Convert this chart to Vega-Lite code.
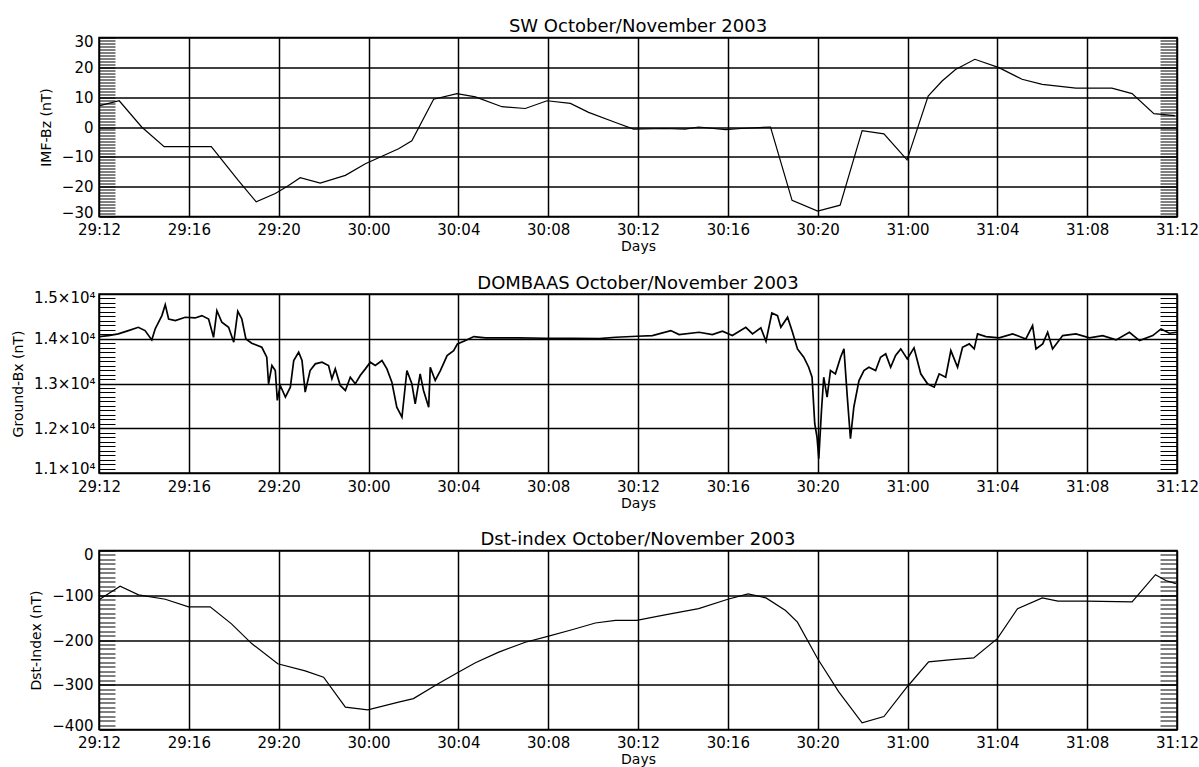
{
  "$schema": "https://vega.github.io/schema/vega-lite/v6.json",
  "padding": {"left": 10, "top": 16.5, "right": 5, "bottom": 0},
  "background": "white",
  "spacing": 18.5,
  "config": {
    "font": "DejaVu Sans",
    "view": {"stroke": "black", "strokeWidth": 1.5},
    "title": {"font": "DejaVu Sans", "fontSize": 18, "fontWeight": "normal", "color": "black", "baseline": "alphabetic", "offset": -2, "anchor": "middle", "frame": "group"},
    "axis": {
      "labelFont": "DejaVu Sans", "labelFontSize": 15, "labelColor": "black",
      "titleFont": "DejaVu Sans", "titleFontSize": 14, "titleFontWeight": "normal", "titleColor": "black",
      "gridColor": "black", "gridOpacity": 1, "gridWidth": 1.5,
      "domain": false, "ticks": false, "labelOverlap": false, "labelFlush": false
    }
  },
  "vconcat": [
    {
      "width": 1078, "height": 179,
      "title": "SW October/November 2003",
      "data": {"values": [
        {"hour": 0, "bz": 7.1}, {"hour": 0.9, "bz": 8.8}, {"hour": 1.9, "bz": 0}, {"hour": 2.9, "bz": -6.6},
        {"hour": 5.0, "bz": -6.6}, {"hour": 6.2, "bz": -17.9}, {"hour": 7.0, "bz": -25.1}, {"hour": 7.85, "bz": -22.3},
        {"hour": 8.44, "bz": -19.6}, {"hour": 8.96, "bz": -17}, {"hour": 9.85, "bz": -18.8}, {"hour": 10.97, "bz": -16.2},
        {"hour": 11.86, "bz": -12.3}, {"hour": 13.34, "bz": -7.3}, {"hour": 13.93, "bz": -4.6}, {"hour": 14.9, "bz": 9.3},
        {"hour": 15.94, "bz": 11.2}, {"hour": 16.76, "bz": 10.1}, {"hour": 17.94, "bz": 6.8}, {"hour": 18.98, "bz": 6.2},
        {"hour": 19.95, "bz": 8.8}, {"hour": 20.99, "bz": 7.9}, {"hour": 21.8, "bz": 4.9}, {"hour": 23.0, "bz": 1.5},
        {"hour": 23.8, "bz": -0.7}, {"hour": 25.2, "bz": -0.5}, {"hour": 26.1, "bz": -0.7}, {"hour": 26.7, "bz": 0},
        {"hour": 27.9, "bz": -0.9}, {"hour": 28.6, "bz": -0.5}, {"hour": 29.9, "bz": 0}, {"hour": 30.86, "bz": -24.6},
        {"hour": 32.0, "bz": -28.2}, {"hour": 33.0, "bz": -26.2}, {"hour": 33.98, "bz": -1.2}, {"hour": 34.95, "bz": -2.3},
        {"hour": 35.98, "bz": -11}, {"hour": 36.92, "bz": 10.4}, {"hour": 37.54, "bz": 15.4}, {"hour": 38.14, "bz": 19.3},
        {"hour": 39.0, "bz": 22.7}, {"hour": 40.07, "bz": 19.9}, {"hour": 41.1, "bz": 16}, {"hour": 42.0, "bz": 14.3},
        {"hour": 43.5, "bz": 13}, {"hour": 45.1, "bz": 13}, {"hour": 46.0, "bz": 11.2}, {"hour": 46.97, "bz": 4.5},
        {"hour": 47.9, "bz": 3.8}
      ]},
      "encoding": {
        "x": {"field": "hour", "type": "quantitative", "scale": {"domain": [0, 48], "nice": false},
          "axis": {"values": [0,4,8,12,16,20,24,28,32,36,40,44,48], "grid": true, "labelPadding": 6, "titlePadding": 2, "title": "Days",
            "labelExpr": "(29 + floor((datum.value + 12) / 24)) + ':' + pad(toString((datum.value + 12) % 24), 2, '0', 'left')"}}
      },
      "layer": [
        {
          "mark": {"type": "line", "color": "black", "strokeWidth": 1.2},
          "encoding": {
            "y": {"field": "bz", "type": "quantitative", "scale": {"domain": [-30, 30], "nice": false, "zero": false},
              "axis": {"orient": "left", "values": [-30,-20,-10,0,10,20,30], "grid": true, "labelPadding": 6, "titlePadding": 8, "title": "IMF-Bz (nT)", "labelFlush": true, "labelFlushOffset": 3.5}}
          }
        },
        {
          "mark": {"type": "line", "opacity": 0},
          "encoding": {
            "y": {"field": "bz", "type": "quantitative",
              "axis": {"orient": "left", "values": [-30,-29,-28,-27,-26,-25,-24,-23,-22,-21,-20,-19,-18,-17,-16,-15,-14,-13,-12,-11,-10,-9,-8,-7,-6,-5,-4,-3,-2,-1,0,1,2,3,4,5,6,7,8,9,10,11,12,13,14,15,16,17,18,19,20,21,22,23,24,25,26,27,28,29,30],
                "ticks": true, "tickSize": -16, "tickColor": "black", "tickWidth": 1, "labels": false, "grid": false, "title": null}}
          }
        },
        {
          "mark": {"type": "line", "opacity": 0},
          "encoding": {
            "y": {"field": "bz", "type": "quantitative",
              "axis": {"orient": "right", "values": [-30,-29,-28,-27,-26,-25,-24,-23,-22,-21,-20,-19,-18,-17,-16,-15,-14,-13,-12,-11,-10,-9,-8,-7,-6,-5,-4,-3,-2,-1,0,1,2,3,4,5,6,7,8,9,10,11,12,13,14,15,16,17,18,19,20,21,22,23,24,25,26,27,28,29,30],
                "ticks": true, "tickSize": -17, "tickColor": "black", "tickWidth": 1, "labels": false, "grid": false, "title": null}}
          }
        }
      ],
      "resolve": {"axis": {"y": "independent"}}
    },
    {
      "width": 1078, "height": 179,
      "title": "DOMBAAS October/November 2003",
      "data": {"values": [
        {"hour": 0, "bx": 14048}, {"hour": 0.42, "bx": 14071}, {"hour": 0.86, "bx": 14108}, {"hour": 1.31, "bx": 14182},
        {"hour": 1.75, "bx": 14256}, {"hour": 2.05, "bx": 14182}, {"hour": 2.35, "bx": 13974}, {"hour": 2.5, "bx": 14219},
        {"hour": 2.8, "bx": 14517}, {"hour": 2.95, "bx": 14762}, {"hour": 3.1, "bx": 14442}, {"hour": 3.4, "bx": 14405},
        {"hour": 3.84, "bx": 14480}, {"hour": 4.28, "bx": 14465}, {"hour": 4.58, "bx": 14517}, {"hour": 4.88, "bx": 14442},
        {"hour": 5.1, "bx": 14033}, {"hour": 5.25, "bx": 14628}, {"hour": 5.47, "bx": 14368}, {"hour": 5.77, "bx": 14256},
        {"hour": 6.0, "bx": 13922}, {"hour": 6.18, "bx": 14613}, {"hour": 6.36, "bx": 14442}, {"hour": 6.54, "bx": 13996},
        {"hour": 6.8, "bx": 13900}, {"hour": 7.25, "bx": 13810}, {"hour": 7.47, "bx": 13587}, {"hour": 7.55, "bx": 12993},
        {"hour": 7.7, "bx": 13402}, {"hour": 7.85, "bx": 13290}, {"hour": 7.94, "bx": 12621}, {"hour": 8.07, "bx": 12956},
        {"hour": 8.3, "bx": 12696}, {"hour": 8.52, "bx": 12918}, {"hour": 8.67, "bx": 13513}, {"hour": 8.89, "bx": 13699},
        {"hour": 9.04, "bx": 13513}, {"hour": 9.18, "bx": 12807}, {"hour": 9.4, "bx": 13290}, {"hour": 9.63, "bx": 13439},
        {"hour": 9.93, "bx": 13476}, {"hour": 10.22, "bx": 13402}, {"hour": 10.37, "bx": 13104}, {"hour": 10.52, "bx": 13327},
        {"hour": 10.74, "bx": 12956}, {"hour": 10.97, "bx": 12844}, {"hour": 11.19, "bx": 13141}, {"hour": 11.41, "bx": 12993},
        {"hour": 11.63, "bx": 13179}, {"hour": 11.86, "bx": 13327}, {"hour": 12.08, "bx": 13476}, {"hour": 12.3, "bx": 13402},
        {"hour": 12.6, "bx": 13513}, {"hour": 12.82, "bx": 13327}, {"hour": 13.04, "bx": 13030}, {"hour": 13.26, "bx": 12472},
        {"hour": 13.49, "bx": 12249}, {"hour": 13.71, "bx": 13290}, {"hour": 13.93, "bx": 12993}, {"hour": 14.08, "bx": 12547},
        {"hour": 14.3, "bx": 13216}, {"hour": 14.45, "bx": 12844}, {"hour": 14.68, "bx": 12472}, {"hour": 14.75, "bx": 13364},
        {"hour": 14.97, "bx": 13067}, {"hour": 15.2, "bx": 13290}, {"hour": 15.5, "bx": 13625}, {"hour": 15.79, "bx": 13736},
        {"hour": 15.96, "bx": 13885}, {"hour": 16.32, "bx": 13959}, {"hour": 16.69, "bx": 14048}, {"hour": 17.21, "bx": 14019},
        {"hour": 17.81, "bx": 14019}, {"hour": 18.7, "bx": 14019}, {"hour": 19.89, "bx": 14011}, {"hour": 21.08, "bx": 14011},
        {"hour": 22.27, "bx": 14004}, {"hour": 23.01, "bx": 14033}, {"hour": 23.96, "bx": 14056}, {"hour": 24.64, "bx": 14071},
        {"hour": 25.46, "bx": 14182}, {"hour": 25.83, "bx": 14093}, {"hour": 26.72, "bx": 14145}, {"hour": 27.31, "bx": 14093},
        {"hour": 27.76, "bx": 14167}, {"hour": 28.2, "bx": 14071}, {"hour": 28.8, "bx": 14256}, {"hour": 29.1, "bx": 14108},
        {"hour": 29.47, "bx": 14242}, {"hour": 29.7, "bx": 13944}, {"hour": 29.96, "bx": 14576}, {"hour": 30.21, "bx": 14517},
        {"hour": 30.36, "bx": 14256}, {"hour": 30.66, "bx": 14480}, {"hour": 30.88, "bx": 14145}, {"hour": 31.1, "bx": 13773},
        {"hour": 31.38, "bx": 13587}, {"hour": 31.6, "bx": 13364}, {"hour": 31.75, "bx": 13141}, {"hour": 31.87, "bx": 12101},
        {"hour": 31.97, "bx": 11804}, {"hour": 32.05, "bx": 11320}, {"hour": 32.17, "bx": 12398}, {"hour": 32.27, "bx": 13141},
        {"hour": 32.42, "bx": 12696}, {"hour": 32.57, "bx": 13290}, {"hour": 32.79, "bx": 13216}, {"hour": 33.02, "bx": 13587},
        {"hour": 33.17, "bx": 13773}, {"hour": 33.32, "bx": 12696}, {"hour": 33.46, "bx": 11766}, {"hour": 33.61, "bx": 12472},
        {"hour": 33.84, "bx": 13067}, {"hour": 34.06, "bx": 13290}, {"hour": 34.28, "bx": 13364}, {"hour": 34.58, "bx": 13290},
        {"hour": 34.8, "bx": 13587}, {"hour": 35.03, "bx": 13662}, {"hour": 35.25, "bx": 13364}, {"hour": 35.47, "bx": 13625},
        {"hour": 35.7, "bx": 13773}, {"hour": 35.99, "bx": 13550}, {"hour": 36.29, "bx": 13796}, {"hour": 36.59, "bx": 13216},
        {"hour": 36.89, "bx": 12993}, {"hour": 37.19, "bx": 12918}, {"hour": 37.41, "bx": 13216}, {"hour": 37.7, "bx": 13141},
        {"hour": 37.93, "bx": 13736}, {"hour": 38.23, "bx": 13364}, {"hour": 38.45, "bx": 13810}, {"hour": 38.75, "bx": 13885},
        {"hour": 38.97, "bx": 13773}, {"hour": 39.12, "bx": 14108}, {"hour": 39.49, "bx": 14048}, {"hour": 40.08, "bx": 14019},
        {"hour": 40.68, "bx": 14108}, {"hour": 41.27, "bx": 13996}, {"hour": 41.57, "bx": 14294}, {"hour": 41.72, "bx": 13773},
        {"hour": 42.02, "bx": 13885}, {"hour": 42.24, "bx": 14145}, {"hour": 42.46, "bx": 13773}, {"hour": 42.91, "bx": 14071},
        {"hour": 43.5, "bx": 14108}, {"hour": 44.1, "bx": 14019}, {"hour": 44.69, "bx": 14071}, {"hour": 45.29, "bx": 13974},
        {"hour": 45.88, "bx": 14145}, {"hour": 46.33, "bx": 13959}, {"hour": 46.92, "bx": 14071}, {"hour": 47.29, "bx": 14219},
        {"hour": 47.66, "bx": 14123}, {"hour": 48.0, "bx": 14145}
      ]},
      "encoding": {
        "x": {"field": "hour", "type": "quantitative", "scale": {"domain": [0, 48], "nice": false},
          "axis": {"values": [0,4,8,12,16,20,24,28,32,36,40,44,48], "grid": true, "labelPadding": 6, "titlePadding": 2, "title": "Days",
            "labelExpr": "(29 + floor((datum.value + 12) / 24)) + ':' + pad(toString((datum.value + 12) % 24), 2, '0', 'left')"}}
      },
      "layer": [
        {
          "mark": {"type": "line", "color": "black", "strokeWidth": 1.7},
          "encoding": {
            "y": {"field": "bx", "type": "quantitative", "scale": {"domain": [11000, 15000], "nice": false, "zero": false},
              "axis": {"orient": "left", "values": [11000, 12000, 13000, 14000, 15000], "grid": true, "labelPadding": 4, "titlePadding": 8, "title": "Ground-Bx (nT)", "labelFlush": true, "labelFlushOffset": 3.5,
                "labelExpr": "format(datum.value / 10000, '.1f') + '×10⁴'"}}
          }
        },
        {
          "mark": {"type": "line", "opacity": 0},
          "encoding": {
            "y": {"field": "bx", "type": "quantitative",
              "axis": {"orient": "left", "values": [11000,11100,11200,11300,11400,11500,11600,11700,11800,11900,12000,12100,12200,12300,12400,12500,12600,12700,12800,12900,13000,13100,13200,13300,13400,13500,13600,13700,13800,13900,14000,14100,14200,14300,14400,14500,14600,14700,14800,14900,15000],
                "ticks": true, "tickSize": -16, "tickColor": "black", "tickWidth": 1, "labels": false, "grid": false, "title": null}}
          }
        },
        {
          "mark": {"type": "line", "opacity": 0},
          "encoding": {
            "y": {"field": "bx", "type": "quantitative",
              "axis": {"orient": "right", "values": [11000,11100,11200,11300,11400,11500,11600,11700,11800,11900,12000,12100,12200,12300,12400,12500,12600,12700,12800,12900,13000,13100,13200,13300,13400,13500,13600,13700,13800,13900,14000,14100,14200,14300,14400,14500,14600,14700,14800,14900,15000],
                "ticks": true, "tickSize": -17, "tickColor": "black", "tickWidth": 1, "labels": false, "grid": false, "title": null}}
          }
        }
      ],
      "resolve": {"axis": {"y": "independent"}}
    },
    {
      "width": 1078, "height": 179,
      "title": "Dst-index October/November 2003",
      "data": {"values": [
        {"hour": 0, "dst": -110}, {"hour": 0.94, "dst": -80}, {"hour": 1.76, "dst": -99}, {"hour": 2.95, "dst": -109},
        {"hour": 3.99, "dst": -126}, {"hour": 4.95, "dst": -126}, {"hour": 5.9, "dst": -164}, {"hour": 6.8, "dst": -208},
        {"hour": 7.96, "dst": -253}, {"hour": 9.18, "dst": -269}, {"hour": 10.0, "dst": -283}, {"hour": 10.97, "dst": -350},
        {"hour": 11.97, "dst": -356}, {"hour": 13.34, "dst": -339}, {"hour": 14.0, "dst": -331}, {"hour": 15.1, "dst": -298},
        {"hour": 15.96, "dst": -273}, {"hour": 16.76, "dst": -251}, {"hour": 17.8, "dst": -227}, {"hour": 18.98, "dst": -205},
        {"hour": 19.98, "dst": -192}, {"hour": 21.06, "dst": -177}, {"hour": 22.1, "dst": -162}, {"hour": 23.0, "dst": -156},
        {"hour": 23.94, "dst": -156}, {"hour": 25.2, "dst": -144}, {"hour": 26.7, "dst": -130}, {"hour": 28.0, "dst": -109},
        {"hour": 28.9, "dst": -97}, {"hour": 29.7, "dst": -106}, {"hour": 30.57, "dst": -134}, {"hour": 31.1, "dst": -160},
        {"hour": 32.0, "dst": -242}, {"hour": 32.94, "dst": -316}, {"hour": 33.98, "dst": -385}, {"hour": 34.95, "dst": -371},
        {"hour": 35.98, "dst": -305}, {"hour": 36.94, "dst": -249}, {"hour": 37.98, "dst": -244}, {"hour": 38.95, "dst": -240},
        {"hour": 40.0, "dst": -197}, {"hour": 40.9, "dst": -130}, {"hour": 42.0, "dst": -106}, {"hour": 42.7, "dst": -113},
        {"hour": 43.97, "dst": -113}, {"hour": 46.0, "dst": -115}, {"hour": 47.04, "dst": -54}, {"hour": 47.5, "dst": -67},
        {"hour": 47.95, "dst": -74}
      ]},
      "encoding": {
        "x": {"field": "hour", "type": "quantitative", "scale": {"domain": [0, 48], "nice": false},
          "axis": {"values": [0,4,8,12,16,20,24,28,32,36,40,44,48], "grid": true, "labelPadding": 6, "titlePadding": 2, "title": "Days",
            "labelExpr": "(29 + floor((datum.value + 12) / 24)) + ':' + pad(toString((datum.value + 12) % 24), 2, '0', 'left')"}}
      },
      "layer": [
        {
          "mark": {"type": "line", "color": "black", "strokeWidth": 1.2},
          "encoding": {
            "y": {"field": "dst", "type": "quantitative", "scale": {"domain": [-400, 0], "nice": false, "zero": false},
              "axis": {"orient": "left", "values": [-400, -300, -200, -100, 0], "grid": true, "labelPadding": 6, "titlePadding": 8, "title": "Dst-Index (nT)", "labelFlush": true, "labelFlushOffset": 3.5}}
          }
        },
        {
          "mark": {"type": "line", "opacity": 0},
          "encoding": {
            "y": {"field": "dst", "type": "quantitative",
              "axis": {"orient": "left", "values": [-400,-390,-380,-370,-360,-350,-340,-330,-320,-310,-300,-290,-280,-270,-260,-250,-240,-230,-220,-210,-200,-190,-180,-170,-160,-150,-140,-130,-120,-110,-100,-90,-80,-70,-60,-50,-40,-30,-20,-10,0],
                "ticks": true, "tickSize": -16, "tickColor": "black", "tickWidth": 1, "labels": false, "grid": false, "title": null}}
          }
        },
        {
          "mark": {"type": "line", "opacity": 0},
          "encoding": {
            "y": {"field": "dst", "type": "quantitative",
              "axis": {"orient": "right", "values": [-400,-390,-380,-370,-360,-350,-340,-330,-320,-310,-300,-290,-280,-270,-260,-250,-240,-230,-220,-210,-200,-190,-180,-170,-160,-150,-140,-130,-120,-110,-100,-90,-80,-70,-60,-50,-40,-30,-20,-10,0],
                "ticks": true, "tickSize": -17, "tickColor": "black", "tickWidth": 1, "labels": false, "grid": false, "title": null}}
          }
        }
      ],
      "resolve": {"axis": {"y": "independent"}}
    }
  ]
}
